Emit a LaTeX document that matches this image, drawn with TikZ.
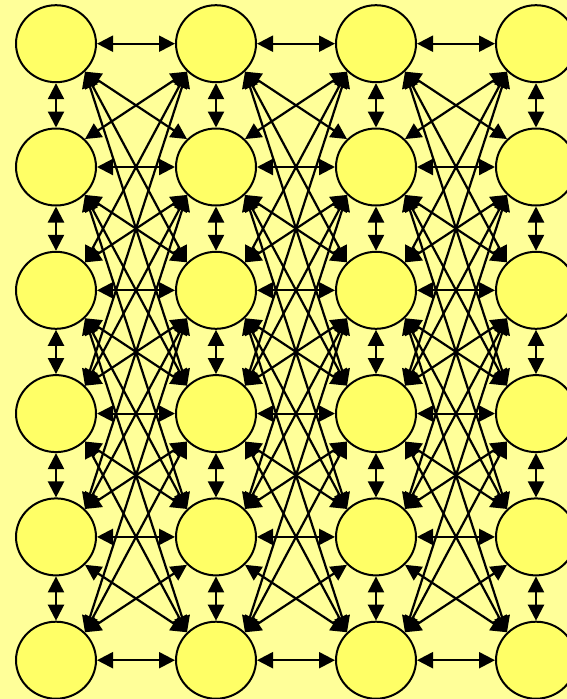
\documentclass[tikz,border=0pt]{standalone}
\usepackage{tikz}
\usetikzlibrary{arrows.meta, shapes.geometric}

\definecolor{bgyellow}{RGB}{255,255,153}
\definecolor{cellyellow}{RGB}{255,255,102}

\begin{document}
\begin{tikzpicture}[
  x=1pt, y=-1pt,
  cell/.style={ellipse, draw, line width=2pt, fill=cellyellow,
    minimum width=80pt, minimum height=77pt, inner sep=0pt},
  edge/.style={{Triangle[length=16pt, width=16pt]}-{Triangle[length=16pt, width=16pt]}, line width=2.2pt}
]
\fill[bgyellow] (0,0) rectangle (567,699);
\useasboundingbox (0,0) rectangle (567,699);

% grid of cells
\foreach \c in {0,...,3}
  \foreach \r in {0,...,5}
    \node[cell] (\c-\r) at (56+160*\c, 43.7+123.3*\r) {};

% horizontal links
\foreach \c/\d in {0/1,1/2,2/3}
  \foreach \r in {0,...,5}
    \draw[edge] (\c-\r.east) -- (\d-\r.west);

% vertical links
\foreach \c in {0,...,3}
  \foreach \r/\s in {0/1,1/2,2/3,3/4,4/5}
    \draw[edge] (\c-\r.south) -- (\c-\s.north);

% diagonal links, up to three rows apart
\foreach \c/\d in {0/1,1/2,2/3} {
  \foreach \r in {0,...,5} {
    \foreach \k [evaluate=\k as \s using int(\r+\k)] in {1,2,3} {
      \ifnum\s<6
        \draw[edge] (\c-\r.south east) -- (\d-\s.north west);
        \draw[edge] (\c-\s.north east) -- (\d-\r.south west);
      \fi
    }
  }
}
\end{tikzpicture}
\end{document}
